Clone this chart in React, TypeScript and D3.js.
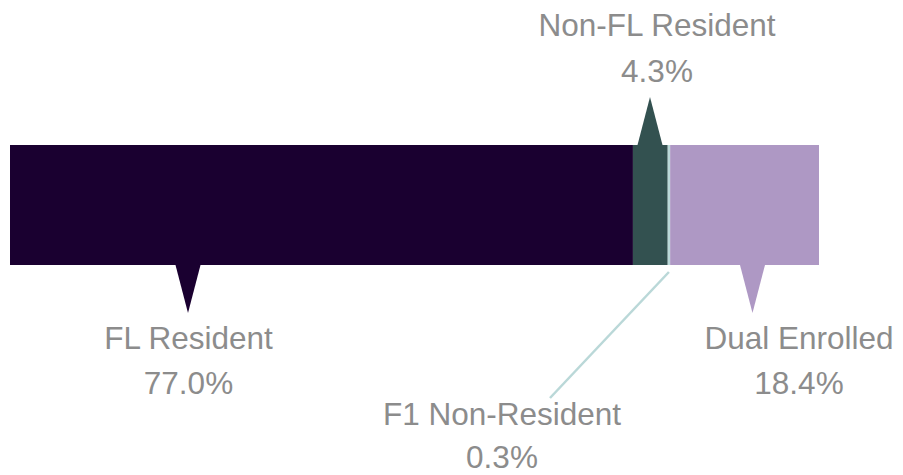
import React from "react";
import * as d3 from "d3";

const categories = ["FL Resident", "Non-FL Resident", "F1 Non-Resident", "Dual Enrolled"];
const values = [77.0, 4.3, 0.3, 18.4];
const colors = ["#1a0030", "#335150", "#bad8d8", "#ae98c4"];

// layout for callouts: label center x, side, pointer style
const labelX = [188.5, 657, 502, 799];
const pointerX = [188, 650, null, 752.5];
const side = ["below", "above", "leader", "below"];

const W = 903;
const H = 475;
const barTop = 145;
const barBottom = 265;

export default function App() {
  const x = d3.scaleLinear().domain([0, 100]).range([10, 819]);
  const stack: { start: number; end: number }[] = [];
  let acc = 0;
  values.forEach((v) => {
    stack.push({ start: acc, end: acc + v });
    acc += v;
  });
  const fmt = d3.format(".1f");
  const font = "'Liberation Sans', Arial, sans-serif";
  const textColor = "#8c8c8c";
  const fs = 31.5;

  return (
    <svg
      width={W}
      height={H}
      style={{ position: "absolute", left: 0, top: 0, background: "#fff" }}
    >
      {stack.map((s, i) => (
        <rect
          key={"bar" + i}
          x={x(s.start)}
          y={barTop}
          width={x(s.end) - x(s.start)}
          height={barBottom - barTop}
          fill={colors[i]}
        />
      ))}
      {categories.map((c, i) => {
        const px = pointerX[i];
        let pointer: React.ReactNode = null;
        let y1: number, y2: number;
        if (side[i] === "above") {
          pointer = (
            <path
              d={`M${px! - 12.5},${barTop} L${px},${barTop - 48} L${px! + 12.5},${barTop} Z`}
              fill={colors[i]}
            />
          );
          y1 = 36;
          y2 = 82;
        } else if (side[i] === "below") {
          pointer = (
            <path
              d={`M${px! - 12.5},${barBottom} L${px},${barBottom + 48} L${px! + 12.5},${barBottom} Z`}
              fill={colors[i]}
            />
          );
          y1 = 349;
          y2 = 394;
        } else {
          const sx = (x(stack[i].start) + x(stack[i].end)) / 2;
          pointer = (
            <line
              x1={sx}
              y1={barBottom + 7}
              x2={550}
              y2={398}
              stroke={colors[i]}
              strokeWidth={2.5}
            />
          );
          y1 = 425;
          y2 = 468;
        }
        return (
          <g key={"lab" + i}>
            {pointer}
            <text
              x={labelX[i]}
              y={y1}
              textAnchor="middle"
              fontFamily={font}
              fontSize={fs}
              fill={textColor}
            >
              {c}
            </text>
            <text
              x={labelX[i]}
              y={y2}
              textAnchor="middle"
              fontFamily={font}
              fontSize={fs}
              fill={textColor}
            >
              {fmt(values[i]) + "%"}
            </text>
          </g>
        );
      })}
    </svg>
  );
}
